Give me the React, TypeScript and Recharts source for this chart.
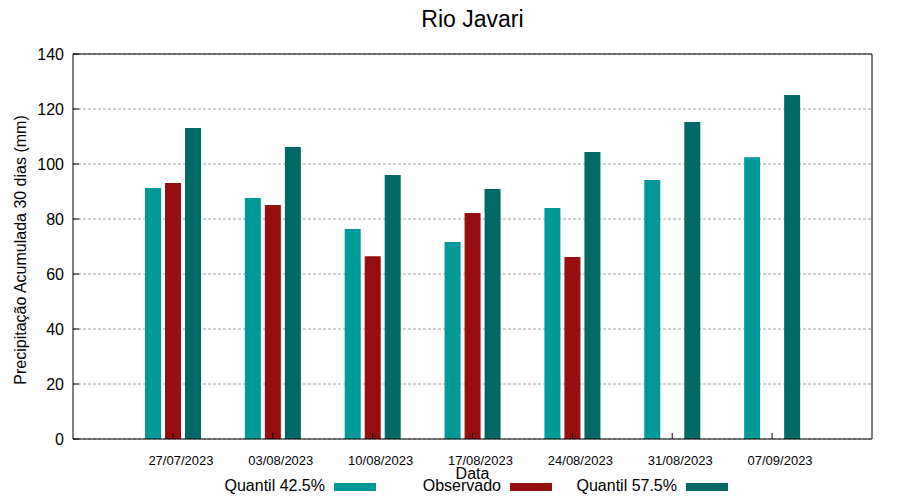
import React from 'react';
import { ComposedChart, Bar, XAxis, YAxis, CartesianGrid, Legend } from 'recharts';

const categories = ['27/07/2023', '03/08/2023', '10/08/2023', '17/08/2023', '24/08/2023', '31/08/2023', '07/09/2023'];
const quantil425 = [91.3, 87.6, 76.4, 71.6, 84.0, 94.2, 102.5];
const observado: (number | null)[] = [93.1, 85.1, 66.5, 82.2, 66.2, null, null];
const quantil575 = [113.1, 106.2, 96.0, 90.9, 104.4, 115.3, 125.1];
const yTicks = [0, 20, 40, 60, 80, 100, 120, 140];

const data = categories.map((d, i) => ({
  date: d,
  q425: quantil425[i],
  obs: observado[i],
  q575: quantil575[i],
}));

const FONT = '"Liberation Sans", Arial, sans-serif';

const legendOrder = ['q425', 'obs', 'q575'];
const legendTextEnds = [325, 501, 677];

const LegendContent = (props: any) => {
  const payload = props.payload || [];
  return (
    <svg width={900} height={24} style={{ display: 'block', fontFamily: FONT }}>
      {legendOrder.map((key, i) => {
        const p = payload.find((e: any) => e.dataKey === key);
        if (!p) return null;
        return (
          <g key={key}>
            <text x={legendTextEnds[i]} y={15} textAnchor="end" fontSize={16} fill="#000">
              {p.value}
            </text>
            <rect x={legendTextEnds[i] + 9} y={7} width={42} height={8} fill={p.color} />
          </g>
        );
      })}
    </svg>
  );
};

export default function App() {
  return (
    <div style={{ position: 'absolute', left: 0, top: 0, width: 900, height: 500, background: '#fff' }}>
      <ComposedChart
        width={900}
        height={500}
        data={data}
        margin={{ top: 53, right: 27, left: 13, bottom: 31 }}
        barSize={16}
        barGap={4}
        style={{ fontFamily: FONT }}
      >
        <CartesianGrid vertical={false} stroke="#a0a0a0" strokeDasharray="3 2" />
        <XAxis
          dataKey="date"
          type="category"
          padding={{ left: 50, right: 50 }}
          height={30}
          interval={0}
          tickSize={-6}
          tickMargin={23}
          axisLine={{ stroke: '#000' }}
          tickLine={{ stroke: '#000' }}
          tick={{ fill: '#000', fontSize: 13, fontFamily: FONT, dx: 8 }}
        />
        <XAxis
          xAxisId="top"
          dataKey="date"
          type="category"
          orientation="top"
          padding={{ left: 50, right: 50 }}
          height={1}
          interval={0}
          tick={false}
          tickSize={-6}
          axisLine={{ stroke: '#000' }}
          tickLine={{ stroke: '#000' }}
        />
        <YAxis
          domain={[0, 140]}
          ticks={yTicks}
          width={60}
          tickSize={-6}
          tickMargin={15}
          axisLine={{ stroke: '#000' }}
          tickLine={{ stroke: '#000' }}
          tick={{ fill: '#000', fontSize: 16, fontFamily: FONT }}
        />
        <YAxis
          yAxisId="right"
          orientation="right"
          domain={[0, 140]}
          ticks={yTicks}
          width={1}
          tick={false}
          tickSize={-6}
          axisLine={{ stroke: '#000' }}
          tickLine={{ stroke: '#000' }}
        />
        <Bar dataKey="q425" name="Quantil 42.5%" fill="#009999" isAnimationActive={false} />
        <Bar dataKey="obs" name="Observado" fill="#960E0E" isAnimationActive={false} />
        <Bar dataKey="q575" name="Quantil 57.5%" fill="#006966" isAnimationActive={false} />
        <Legend
          layout="horizontal"
          verticalAlign="middle"
          align="center"
          content={<LegendContent />}
          wrapperStyle={{ position: 'absolute', top: 476, left: 0, width: 900, height: 24 }}
        />
        <text x={472.5} y={27} textAnchor="middle" fontSize={23} fill="#000" fontFamily={FONT}>
          Rio Javari
        </text>
        <text x={472.5} y={479} textAnchor="middle" fontSize={16} fill="#000" fontFamily={FONT}>
          Data
        </text>
        <text
          x={26}
          y={250}
          transform="rotate(-90 26 250)"
          textAnchor="middle"
          fontSize={16}
          fill="#000"
          fontFamily={FONT}
        >
          Precipitação Acumulada 30 dias (mm)
        </text>
      </ComposedChart>
    </div>
  );
}
